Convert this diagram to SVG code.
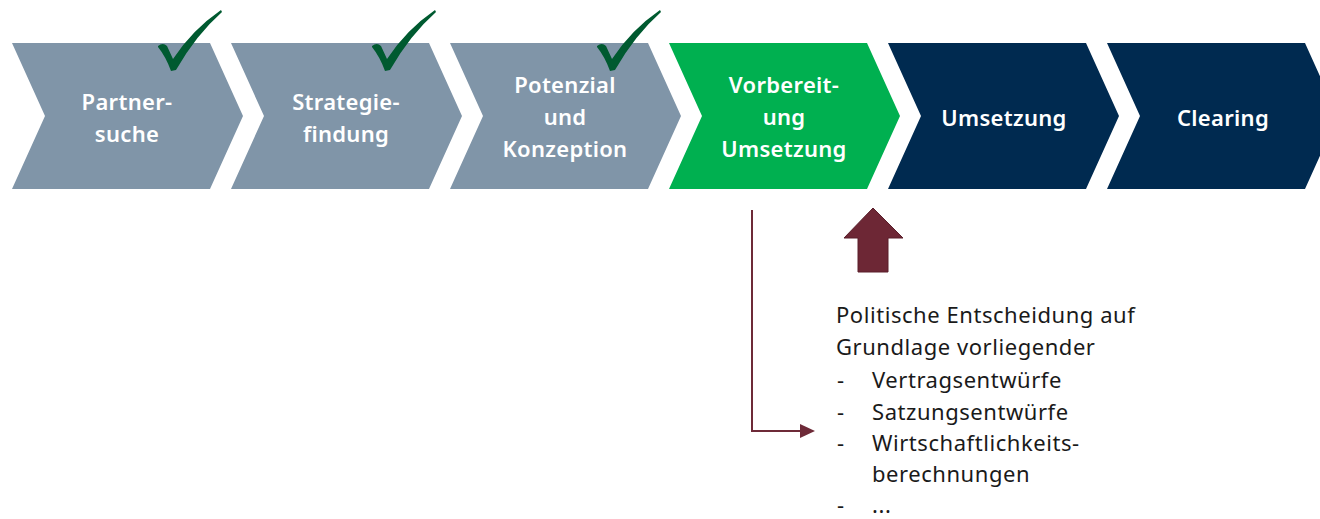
<svg xmlns="http://www.w3.org/2000/svg" width="1320" height="519" viewBox="0 0 1320 519">
<style>
.gray{fill:#8095A8}
.green{fill:#00B050}
.navy{fill:#002A50}
.lbl{font-family:"Noto Sans","Open Sans","Liberation Sans",sans-serif;font-size:22px;font-weight:600;fill:#FFFFFF;text-anchor:middle;letter-spacing:0.3px}
.body{font-family:"Noto Sans","Open Sans","Liberation Sans",sans-serif;font-size:22px;fill:#1A1A1A;letter-spacing:0.55px}
.chk{fill:#005A30}
</style>
<defs>
<path id="check" d="M158,46 Q163,42 167,46 L173,59 Q192,30 221,10 L222,12 Q196,35 176,70 L171,71 Q166,57 158,47 Z"/>
</defs>
<rect width="1320" height="519" fill="#FFFFFF"/>
<g id="step1">
<polygon class="gray" points="12,43 210,43 243,116 210,189 12,189 45,116"/>
<text class="lbl"><tspan x="127" y="110">Partner-</tspan><tspan x="127" y="142">suche</tspan></text>
<use href="#check" class="chk"/>
</g>
<g id="step2">
<polygon class="gray" points="231,43 429,43 462,116 429,189 231,189 264,116"/>
<text class="lbl"><tspan x="346" y="110">Strategie-</tspan><tspan x="346" y="142">findung</tspan></text>
<use href="#check" class="chk" transform="translate(214,0)"/>
</g>
<g id="step3">
<polygon class="gray" points="450,43 648,43 681,116 648,189 450,189 483,116"/>
<text class="lbl"><tspan x="565" y="93">Potenzial</tspan><tspan x="565" y="125">und</tspan><tspan x="565" y="157">Konzeption</tspan></text>
<use href="#check" class="chk" transform="translate(439,0)"/>
</g>
<g id="step4">
<polygon class="green" points="669,43 867,43 900,116 867,189 669,189 702,116"/>
<text class="lbl"><tspan x="784" y="93">Vorbereit-</tspan><tspan x="784" y="125">ung</tspan><tspan x="784" y="157">Umsetzung</tspan></text>
</g>
<g id="step5">
<polygon class="navy" points="888,43 1086,43 1119,116 1086,189 888,189 921,116"/>
<text class="lbl" x="1004" y="126">Umsetzung</text>
</g>
<g id="step6">
<polygon class="navy" points="1107,43 1305,43 1338,116 1305,189 1107,189 1140,116"/>
<text class="lbl" x="1223" y="126">Clearing</text>
</g>
<g id="connectors">
<polyline points="752,210 752,431 801,431" fill="none" stroke="#6E2A38" stroke-width="2"/>
<polygon points="800,424 815,431 800,438" fill="#6E2A38"/>
</g>
<g id="decision-arrow">
<polygon points="873,208 903,238 888,238 888,272 858,272 858,238 844,238" fill="#6D2735" stroke="#5A1F2B" stroke-width="1"/>
</g>
<g id="decision-text">
<text class="body">
<tspan x="836" y="323">Politische Entscheidung auf</tspan>
<tspan x="836" y="355">Grundlage vorliegender</tspan>
<tspan x="837" y="388">-</tspan><tspan x="872" y="388">Vertragsentwürfe</tspan>
<tspan x="837" y="420">-</tspan><tspan x="872" y="420">Satzungsentwürfe</tspan>
<tspan x="837" y="451">-</tspan><tspan x="872" y="451">Wirtschaftlichkeits-</tspan>
<tspan x="872" y="482">berechnungen</tspan>
<tspan x="837" y="512.5">-</tspan><tspan x="872" y="512.5">...</tspan>
</text>
</g>
</svg>
